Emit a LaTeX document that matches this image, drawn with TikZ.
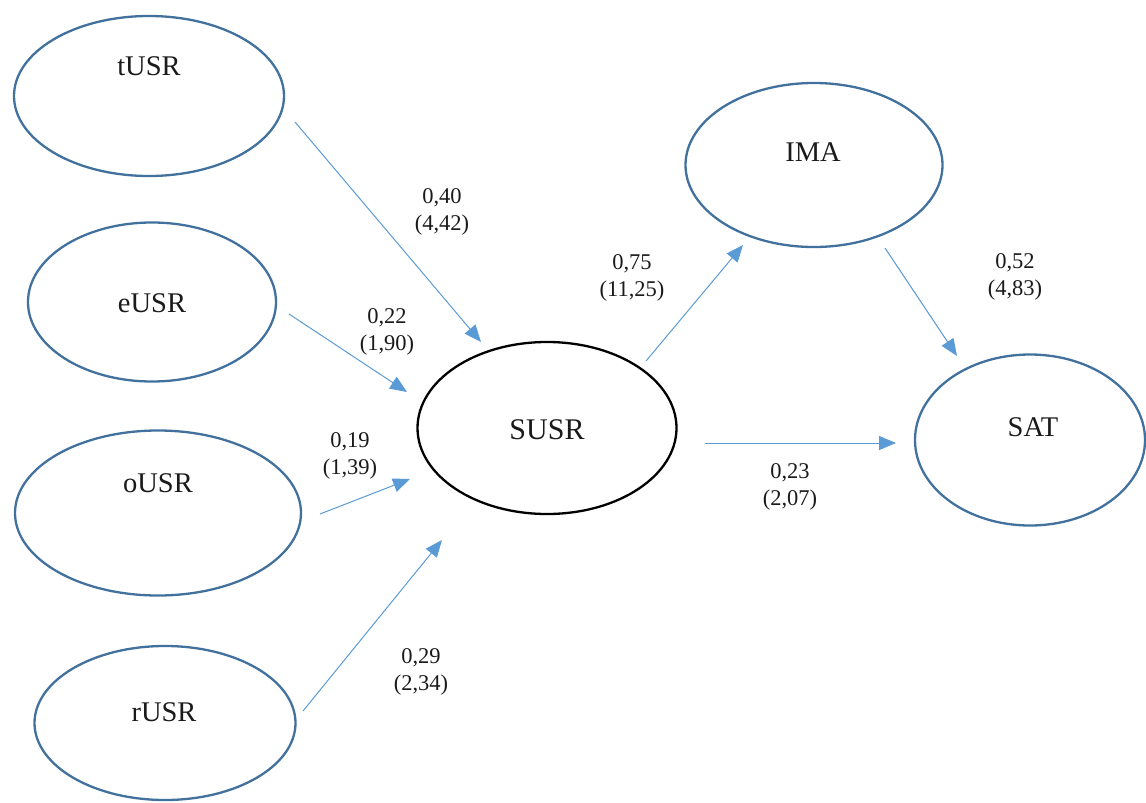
\documentclass[tikz,border=0pt]{standalone}
\usepackage{fontspec}
\setmainfont{Liberation Serif}
\usetikzlibrary{shapes.geometric,arrows.meta}
\definecolor{ellblue}{HTML}{41719C}
\definecolor{arrblue}{HTML}{5B9BD5}
\definecolor{txt}{HTML}{1A1A1A}
\tikzset{
  latent/.style={ellipse, draw=ellblue, line width=2.3pt, inner sep=0pt},
  central/.style={ellipse, draw=black, line width=2.3pt, inner sep=0pt},
  nametext/.style={font=\fontsize{28.5}{34}\selectfont, text=txt, inner sep=0pt, anchor=base},
  coef/.style={font=\fontsize{22.5}{27.5}\selectfont, text=txt, align=center, inner sep=0pt},
  arr/.style={draw=arrblue, line width=1pt, -{Triangle[length=17pt,width=14pt]}, arrblue}
}
\begin{document}
\begin{tikzpicture}[x=1pt,y=-1pt]
\useasboundingbox (0,0) rectangle (1146,803);
% ellipses
\node[latent, minimum width=270pt, minimum height=160pt] (tUSR) at (149,96) {};
\node[latent, minimum width=248pt, minimum height=159pt] (eUSR) at (152,302) {};
\node[latent, minimum width=286pt, minimum height=165pt] (oUSR) at (158,513) {};
\node[latent, minimum width=261pt, minimum height=154pt] (rUSR) at (165,723) {};
\node[central, minimum width=259pt, minimum height=172pt] (SUSR) at (547,428) {};
\node[latent, minimum width=257pt, minimum height=164pt] (IMA) at (814,165) {};
\node[latent, minimum width=230pt, minimum height=171pt] (SAT) at (1030,440) {};
% names
\node[nametext] (tUSR-t) at (149,75) {tUSR};
\node[nametext] (eUSR-t) at (152,312) {eUSR};
\node[nametext] (oUSR-t) at (158,492) {oUSR};
\node[nametext] (rUSR-t) at (164,721) {rUSR};
\node[nametext, font=\fontsize{30}{36}\selectfont] (SUSR-t) at (547,439) {SUSR};
\node[nametext] (IMA-t) at (813,161) {IMA};
\node[nametext] (SAT-t) at (1033,436) {SAT};
% connector end points
\coordinate (t-out) at (295,122);
\coordinate (t-in) at (481,342);
\coordinate (e-out) at (289,314);
\coordinate (e-in) at (407,392);
\coordinate (o-out) at (320,514);
\coordinate (o-in) at (410,479);
\coordinate (r-out) at (303,711);
\coordinate (r-in) at (442,540);
\coordinate (s-outI) at (646,361);
\coordinate (i-in) at (743,245);
\coordinate (s-outS) at (705,443);
\coordinate (sat-inS) at (896,443);
\coordinate (i-out) at (885,248);
\coordinate (sat-inI) at (957,356);
% connectors
\draw[arr] (t-out) -- (t-in);
\draw[arr] (e-out) -- (e-in);
\draw[arr] (o-out) -- (o-in);
\draw[arr] (r-out) -- (r-in);
\draw[arr] (s-outI) -- (i-in);
\draw[arr] (s-outS) -- (sat-inS);
\draw[arr] (i-out) -- (sat-inI);
% coefficients
\node[coef] (c-t) at (442,212) {0,40\\(4,42)};
\node[coef] (c-e) at (387,332) {0,22\\(1,90)};
\node[coef] (c-o) at (350,456) {0,19\\(1,39)};
\node[coef] (c-r) at (421,672) {0,29\\(2,34)};
\node[coef] (c-i) at (632,278) {0,75\\(11,25)};
\node[coef] (c-s) at (1015,277) {0,52\\(4,83)};
\node[coef] (c-ss) at (790,487) {0,23\\(2,07)};
\end{tikzpicture}
\end{document}
